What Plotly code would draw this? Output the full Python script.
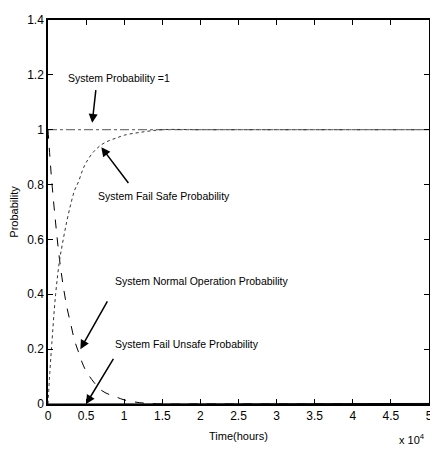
import plotly.graph_objects as go

# Time in hours
time_h = [0, 250, 500, 1000, 1500, 2000, 2500, 3000, 3500, 4000, 4500, 5000,
          6000, 7000, 8000, 9000, 10000, 12000, 15000, 20000, 30000, 40000, 50000]
normal_op = [1.0, 0.90, 0.81, 0.66, 0.53, 0.43, 0.35, 0.29, 0.23, 0.19, 0.15, 0.12,
             0.08, 0.05, 0.035, 0.025, 0.015, 0.005, 0.0, 0.0, 0.0, 0.0, 0.0]
fail_safe = [0.0, 0.12, 0.22, 0.40, 0.52, 0.60, 0.67, 0.73, 0.78, 0.81, 0.85, 0.88,
             0.92, 0.945, 0.96, 0.97, 0.98, 0.99, 1.0, 1.0, 1.0, 1.0, 1.0]
fail_unsafe = [0.0, 0.0, 0.001, 0.001, 0.002, 0.002, 0.002, 0.002, 0.002, 0.002, 0.002, 0.002,
               0.002, 0.002, 0.002, 0.002, 0.002, 0.002, 0.002, 0.002, 0.002, 0.002, 0.002]
system_prob = [1.0] * len(time_h)

x_tickvals = [0, 5000, 10000, 15000, 20000, 25000, 30000, 35000, 40000, 45000, 50000]
x_ticktext = ["0", "0.5", "1", "1.5", "2", "2.5", "3", "3.5", "4", "4.5", "5"]
y_tickvals = [0, 0.2, 0.4, 0.6, 0.8, 1.0, 1.2, 1.4]
y_ticktext = ["0", "0.2", "0.4", "0.6", "0.8", "1", "1.2", "1.4"]

FONT = "Liberation Sans, Arial, sans-serif"

fig = go.Figure()
fig.add_trace(go.Scatter(x=time_h, y=system_prob, mode="lines",
                         line=dict(color="#555555", width=1, dash="dashdot"), name="System"))
fig.add_trace(go.Scatter(x=time_h, y=normal_op, mode="lines", line_shape="spline",
                         line=dict(color="black", width=1, dash="dash"), name="Normal"))
fig.add_trace(go.Scatter(x=time_h, y=fail_safe, mode="lines", line_shape="spline",
                         line=dict(color="#333333", width=1, dash="dot"), name="Fail safe"))
fig.add_trace(go.Scatter(x=time_h, y=fail_unsafe, mode="lines",
                         line=dict(color="black", width=1), name="Fail unsafe"))

arrow = dict(showarrow=True, arrowhead=2, arrowsize=1.2, arrowwidth=1.5,
             arrowcolor="black", axref="x", ayref="y", text="")
# arrows: (tip x, tip y, tail x, tail y)
fig.add_annotation(x=5800, y=1.025, ax=6300, ay=1.15, **arrow)
fig.add_annotation(x=7000, y=0.936, ax=10700, ay=0.8, **arrow)
fig.add_annotation(x=4250, y=0.2, ax=7900, ay=0.38, **arrow)
fig.add_annotation(x=5000, y=0.0, ax=8700, ay=0.17, **arrow)

txt = dict(showarrow=False, font=dict(family=FONT, size=10.5, color="black"),
           xref="x", yref="y")
fig.add_annotation(x=9300, y=1.19, text="System Probability =1", **txt)
fig.add_annotation(x=6300, y=0.758, text="System Fail Safe Probability", xanchor="left", **txt)
fig.add_annotation(x=8500, y=0.45, text="System Normal Operation Probability", xanchor="left", **txt)
fig.add_annotation(x=8500, y=0.218, text="System Fail Unsafe Probability", xanchor="left", **txt)

fig.add_annotation(x=(415 - 44) / 388, y=-(440 - 404) / 391, xref="paper", yref="paper",
                   showarrow=False, xanchor="center", yanchor="middle",
                   text="x 10<sup>4</sup>", font=dict(family=FONT, size=11, color="black"))

axis_common = dict(showgrid=False, zeroline=False, showline=True, linecolor="black",
                   linewidth=1.5, mirror="ticks", ticks="inside", ticklen=5,
                   tickcolor="black", tickwidth=1, ticklabeloverflow="allow",
                   tickfont=dict(family=FONT, size=12, color="black"))

# page body adds an 8px offset, so the figure is 430x445 drawn from (8, 8)
fig.update_layout(
    width=430, height=445,
    margin=dict(l=36, r=6, t=5, b=49),
    paper_bgcolor="white", plot_bgcolor="white",
    showlegend=False,
    xaxis=dict(range=[0, 50000], tickvals=x_tickvals, ticktext=x_ticktext,
               title=dict(text="Time(hours)", font=dict(family=FONT, size=11, color="black"),
                          standoff=10),
               **axis_common),
    yaxis=dict(range=[0, 1.4], tickvals=y_tickvals, ticktext=y_ticktext,
               title=dict(text="Probability", font=dict(family=FONT, size=11, color="black"),
                          standoff=6),
               **axis_common),
)

fig.write_html("out.html")
